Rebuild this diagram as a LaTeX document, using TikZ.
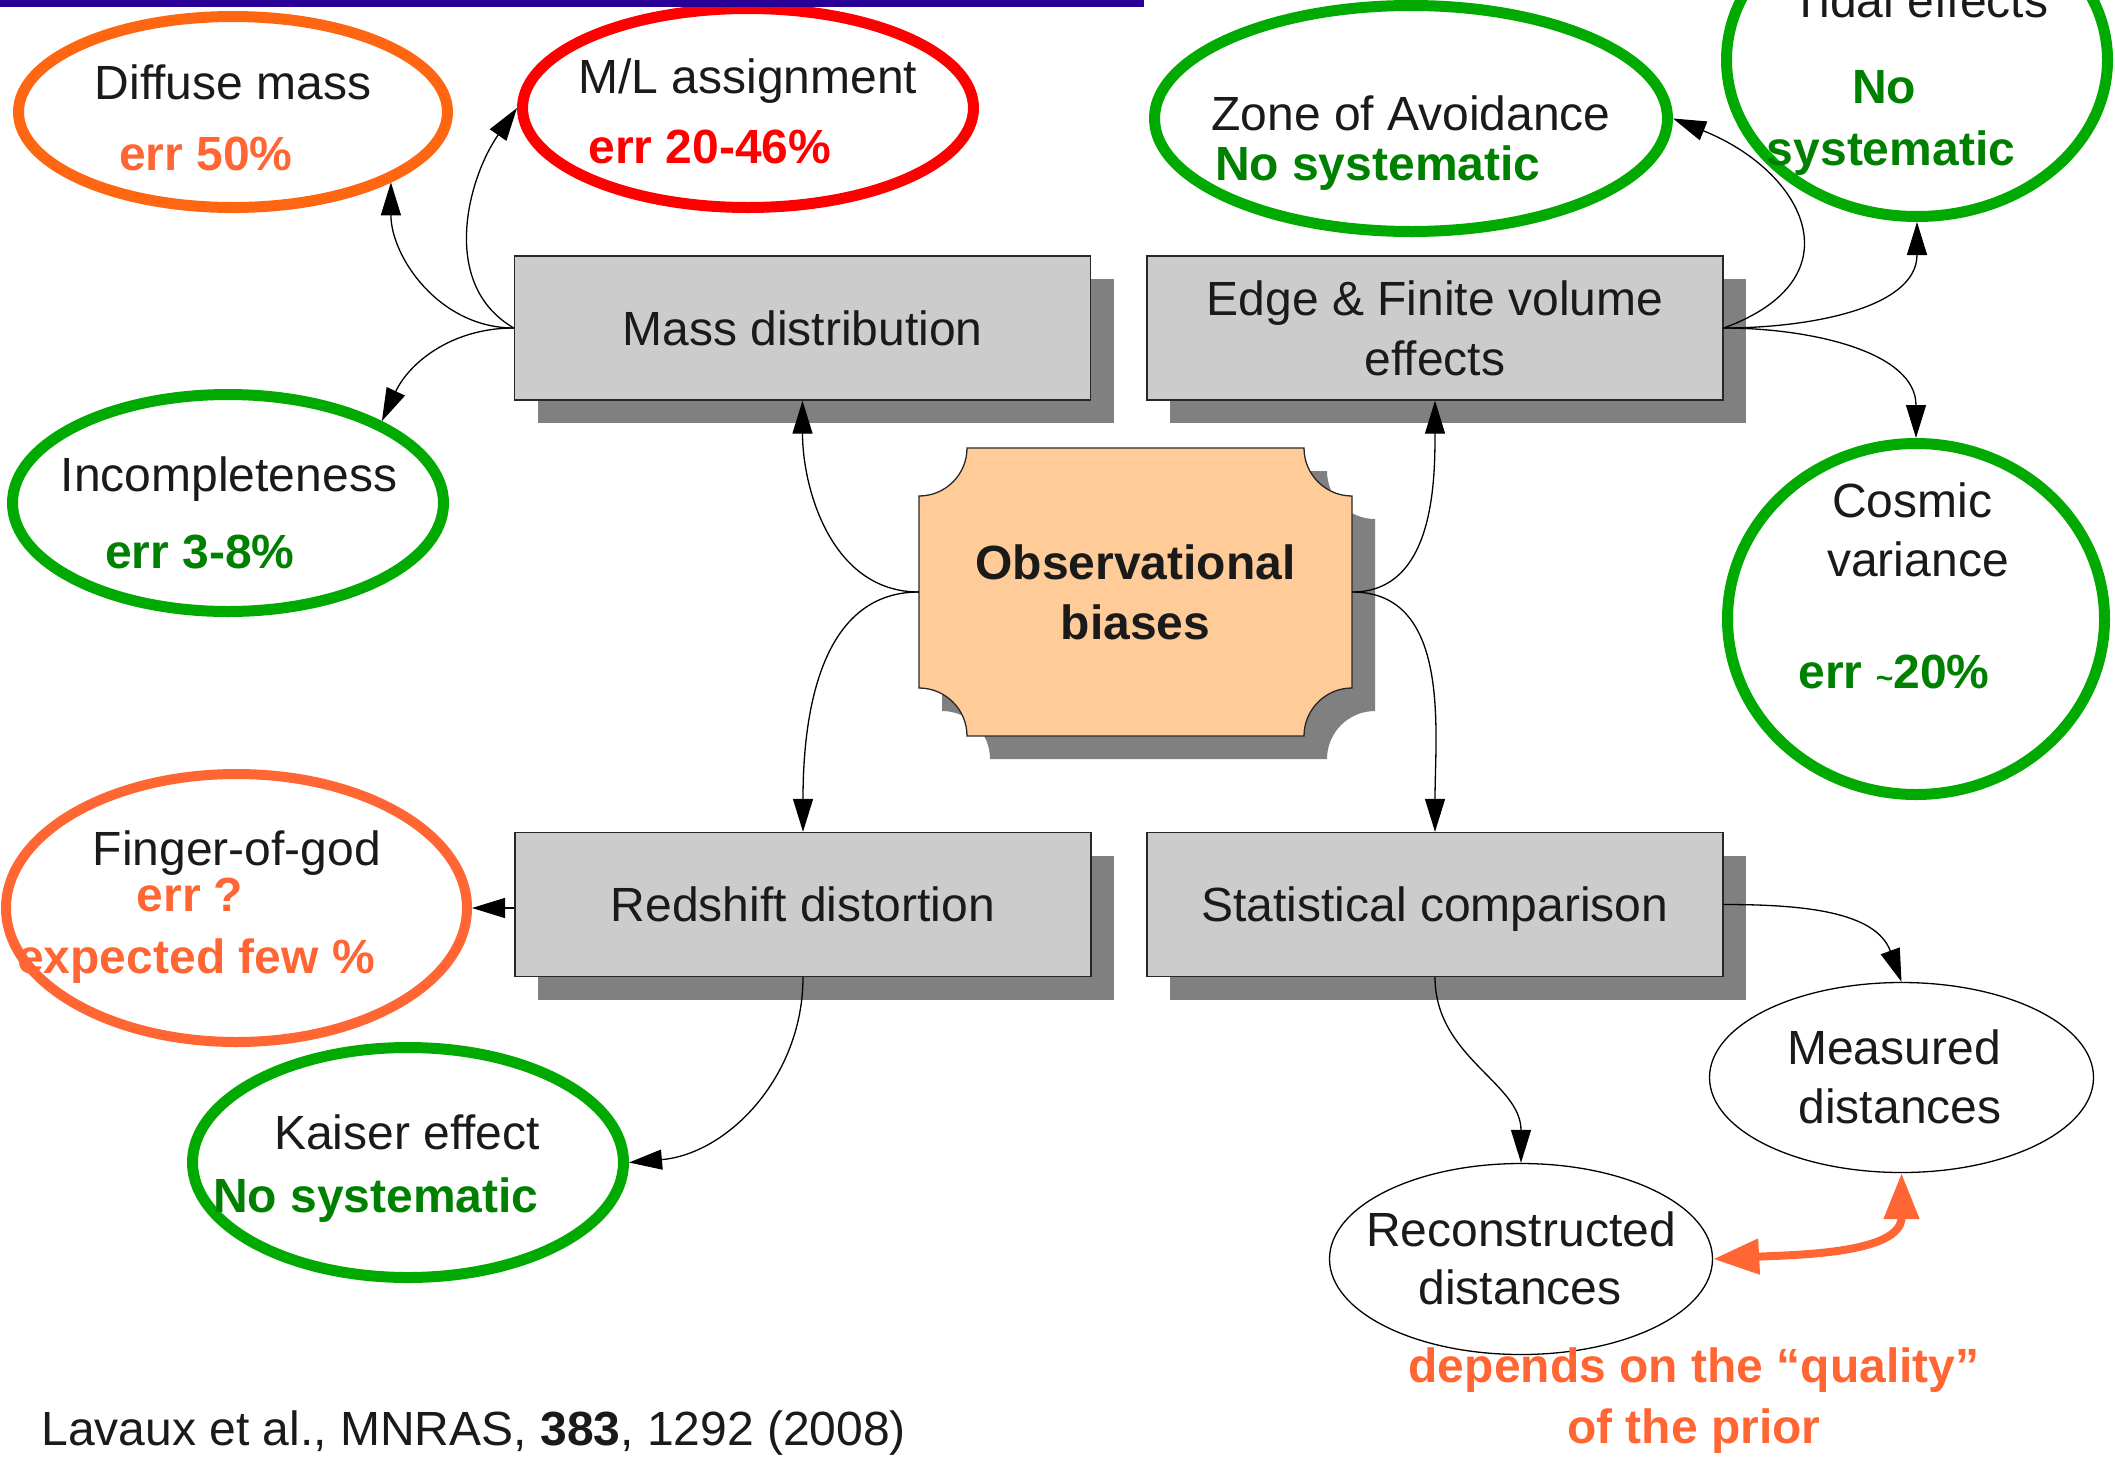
\documentclass[tikz,border=0pt]{standalone}
\usepackage{fontspec}
\setmainfont{Liberation Sans}
\usetikzlibrary{arrows.meta,shapes.geometric,shadows}
\definecolor{topblue}{RGB}{40,0,150}
\definecolor{orangeA}{RGB}{255,102,17}
\definecolor{coral}{RGB}{255,102,51}
\definecolor{redA}{RGB}{255,0,0}
\definecolor{gstroke}{RGB}{0,170,0}
\definecolor{gtext}{RGB}{0,128,0}
\definecolor{peach}{RGB}{255,204,153}
\definecolor{boxgray}{RGB}{204,204,204}
\definecolor{shadowgray}{RGB}{128,128,128}
\definecolor{boxborder}{RGB}{40,40,40}
\definecolor{textblack}{RGB}{26,26,26}
\begin{document}
\begin{tikzpicture}[x=1pt,y=1pt,
  txt/.style={anchor=base, inner sep=0pt, outer sep=0pt, text=textblack, font=\fontsize{48}{60}\selectfont},
  btxt/.style={anchor=base, inner sep=0pt, outer sep=0pt, font=\fontsize{48}{60}\selectfont\bfseries},
  box/.style={rectangle, draw=boxborder, line width=1.3pt, fill=boxgray, minimum width=576pt, minimum height=144pt, inner sep=0pt, text=textblack, align=center, text depth=0pt, font=\fontsize{48}{60}\selectfont, drop shadow={shadow xshift=23pt, shadow yshift=-23pt, fill=shadowgray, opacity=1}},
  oval/.style={ellipse, line width=11pt, inner sep=0pt},
  thinoval/.style={ellipse, draw=black, line width=1.3pt, inner sep=0pt},
  conn/.style={line width=1.3pt, draw=black, -{Triangle[length=33pt,width=20pt]}},
  coralarrow/.style={line width=8pt, draw=coral, {Triangle[length=46pt,width=34pt]}-{Triangle[length=46pt,width=34pt]}},
]
\useasboundingbox (0,0) rectangle (2115,-1462);

% ellipses
\node[oval, draw=orangeA, minimum width=429pt, minimum height=191pt] (diffuse) at (233,-112) {};
\node[oval, draw=redA, minimum width=451pt, minimum height=199pt] (ml) at (748,-108) {};
\node[oval, draw=gstroke, minimum width=431pt, minimum height=217pt] (incomp) at (228,-503) {};
\node[oval, draw=gstroke, minimum width=513pt, minimum height=226pt] (zoa) at (1411,-118.5) {};
\node[oval, draw=gstroke, minimum width=381pt, minimum height=313pt] (tidal) at (1917,-60) {};
\node[oval, draw=gstroke, minimum width=377pt, minimum height=351pt] (cosmic) at (1916,-619) {};
\node[oval, draw=coral, line width=10pt, minimum width=461pt, minimum height=268pt] (finger) at (236.5,-908) {};
\node[oval, draw=gstroke, minimum width=431pt, minimum height=230pt] (kaiser) at (408,-1162.5) {};
\node[thinoval, minimum width=384pt, minimum height=190pt] (meas) at (1901.5,-1077.5) {};
\node[thinoval, minimum width=383pt, minimum height=191pt] (recon) at (1521,-1259) {};

% boxes
\node[box] (mass) at (802.5,-328) {Mass distribution};
\node[box] (edge) at (1435,-328) {Edge \& Finite volume\\effects};
\node[box] (rsd) at (803,-904.5) {Redshift distortion};
\node[box] (stat) at (1435,-904.5) {Statistical comparison};

% central notched box
\fill[shadowgray] (990,-471) -- (1327,-471) arc[start angle=180,end angle=270,radius=48pt] -- (1375,-711) arc[start angle=90,end angle=180,radius=48pt] -- (990,-759) arc[start angle=0,end angle=90,radius=48pt] -- (942,-519) arc[start angle=270,end angle=360,radius=48pt] -- cycle;
\filldraw[fill=peach, draw=boxborder, line width=1.3pt] (967,-448) -- (1304,-448) arc[start angle=180,end angle=270,radius=48pt] -- (1352,-688) arc[start angle=90,end angle=180,radius=48pt] -- (967,-736) arc[start angle=0,end angle=90,radius=48pt] -- (919,-496) arc[start angle=270,end angle=360,radius=48pt] -- cycle;
\node[inner sep=0pt, minimum width=433pt, minimum height=288pt, align=center, text=textblack, font=\fontsize{48}{60}\selectfont\bfseries] (obs) at (1135.5,-592) {Observational\\biases};

% texts in ellipses
\node[txt] (tdiff) at (233,-99) {Diffuse mass};
\node[btxt, text=coral] (ediff) at (206,-170) {err 50\%};
\node[txt] (tml) at (748,-93) {M/L assignment};
\node[btxt, text=redA] (eml) at (710,-163) {err 20-46\%};
\node[txt] (tinc) at (229,-491) {Incompleteness};
\node[btxt, text=gtext] (einc) at (200,-568) {err 3-8\%};
\node[txt] (tzoa) at (1411,-130) {Zone of Avoidance};
\node[btxt, text=gtext, anchor=base west] (ezoa) at (1215,-180) {No systematic};
\node[txt] (ttid) at (1920,-17) {Tidal effects};
\node[btxt, text=gtext] (etid1) at (1884,-103) {No};
\node[btxt, text=gtext] (etid2) at (1891,-165) {systematic};
\node[txt] (tcos1) at (1912,-517) {Cosmic};
\node[txt] (tcos2) at (1918,-576) {variance};
\node[btxt, text=gtext] (ecos) at (1894,-688) {err {\fontsize{30}{30}\selectfont\textasciitilde}20\%};
\node[txt] (tfin) at (237,-865) {Finger-of-god};
\node[btxt, text=coral] (efin1) at (190,-911) {err ?};
\node[btxt, text=coral] (efin2) at (196,-973) {expected few \%};
\node[txt] (tkai) at (407,-1149) {Kaiser effect};
\node[btxt, text=gtext] (ekai) at (376,-1212) {No systematic};
\node[txt] (tmeas1) at (1894,-1064) {Measured};
\node[txt] (tmeas2) at (1900,-1123) {distances};
\node[txt] (trec1) at (1521,-1246) {Reconstructed};
\node[txt] (trec2) at (1520,-1304) {distances};
\node[btxt, text=coral] (dep1) at (1694,-1382) {depends on the “quality”};
\node[btxt, text=coral] (dep2) at (1694,-1443) {of the prior};
\node[txt, anchor=base west] (cite) at (41.5,-1445) {Lavaux et al., MNRAS, \textbf{383}, 1292 (2008)};

% connectors
\draw[conn] (mass.west) to[out=180,in=-90] (diffuse.-24);
\draw[conn] (mass.west) to[out=150,in=-125] (ml.west);
\draw[conn] (mass.west) to[out=180,in=65] (incomp.28);
\draw[conn] (obs.west) to[out=180,in=-90] (mass.south);
\draw[conn] (obs.west) to[out=180,in=90] (rsd.north);
\draw[conn] (obs.east) to[out=0,in=-90] (edge.south);
\draw[conn] (obs.east) to[out=0,in=90] (stat.north);
\draw[conn] (edge.east) to[out=20,in=-22,looseness=1.7] (zoa.east);
\draw[conn] (edge.east) to[out=0,in=-90] (tidal.south);
\draw[conn] (edge.east) to[out=0,in=90] (cosmic.north);
\draw[conn] (finger.east -| rsd.west) -- (finger.east);
\draw[conn] (rsd.south) to[out=-90,in=5] (kaiser.east);
\draw[conn] (stat.east) to[out=0,in=110] (meas.north);
\draw[conn] (stat.south) to[out=-90,in=90] (recon.north);
\draw[coralarrow] (recon.east) to[out=3,in=-90] (meas.south);

% top bar
\fill[topblue] (0,0) rectangle (1144,-7);
\end{tikzpicture}
\end{document}
